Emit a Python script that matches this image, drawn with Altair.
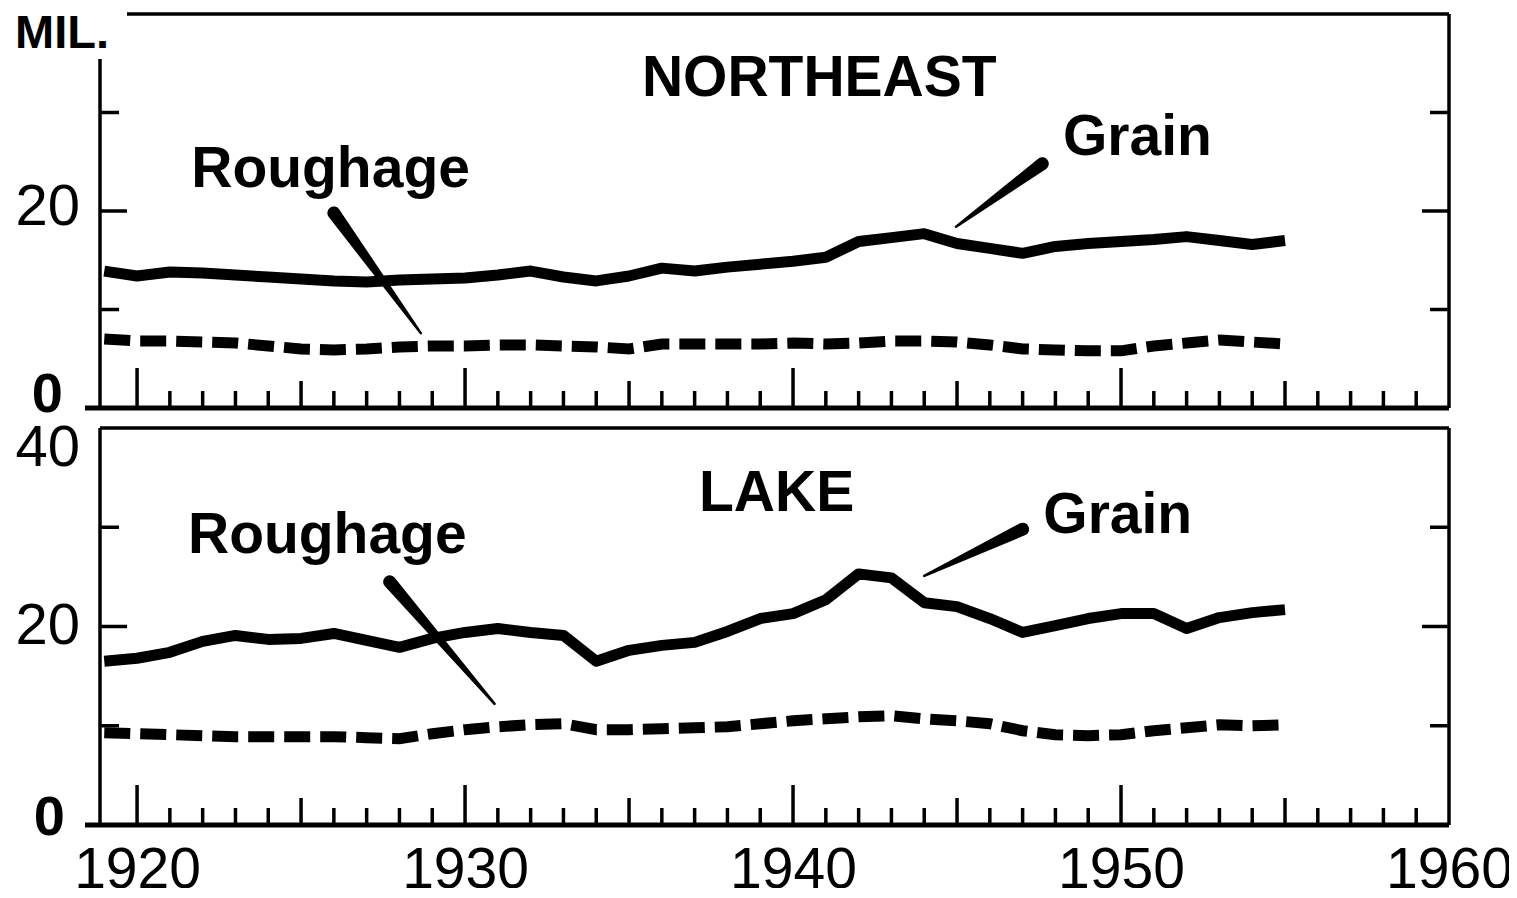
import altair as alt
import pandas as pd

# ---------------- data ----------------
years = list(range(1919, 1956))

ne_grain = [13.9, 13.4, 13.8, 13.7, 13.5, 13.3, 13.1, 12.9, 12.8, 13.0,
            13.1, 13.2, 13.5, 13.9, 13.3, 12.9, 13.4, 14.2, 13.9, 14.3,
            14.6, 14.9, 15.3, 16.9, 17.3, 17.7, 16.7, 16.2, 15.7, 16.4,
            16.7, 16.9, 17.1, 17.4, 17.0, 16.6, 17.0]
ne_roughage = [7.0, 6.8, 6.8, 6.7, 6.6, 6.3, 6.0, 5.9, 6.0, 6.2,
               6.3, 6.3, 6.4, 6.4, 6.3, 6.2, 6.0, 6.5, 6.5, 6.5,
               6.5, 6.6, 6.5, 6.6, 6.8, 6.8, 6.7, 6.4, 6.0, 5.9,
               5.8, 5.8, 6.3, 6.6, 6.9, 6.7, 6.5]
lake_grain = [16.5, 16.8, 17.4, 18.5, 19.1, 18.7, 18.8, 19.3, 18.6, 17.9,
              18.8, 19.4, 19.8, 19.4, 19.1, 16.5, 17.6, 18.1, 18.4, 19.5,
              20.8, 21.3, 22.7, 25.3, 24.9, 22.4, 22.0, 20.8, 19.4, 20.1,
              20.8, 21.3, 21.3, 19.8, 20.9, 21.4, 21.7]
lake_roughage = [9.3, 9.2, 9.1, 9.0, 8.9, 8.9, 8.9, 8.9, 8.8, 8.7,
                 9.2, 9.6, 9.9, 10.1, 10.2, 9.6, 9.6, 9.7, 9.8, 9.9,
                 10.2, 10.5, 10.7, 10.9, 11.0, 10.7, 10.5, 10.2, 9.5, 9.1,
                 9.0, 9.1, 9.5, 9.8, 10.1, 10.0, 10.1]

x_tick_labels = [1920, 1930, 1940, 1950, 1960]
ne_y_labels = ["0", "20"]
ne_y_values = [0, 20]
lake_y_labels = ["0", "20", "40"]
lake_y_values = [0, 20, 40]
inner_y_ticks = [10, 20, 30]
unit_label = "MIL."

# annotation anchors (year, value)
ne_text_labels = ["NORTHEAST", "Grain", "Roughage"]
ne_text_years = [1940.8, 1950.5, 1925.9]
ne_text_values = [31.7, 25.7, 22.4]
lake_text_labels = ["LAKE", "Grain", "Roughage"]
lake_text_years = [1939.5, 1949.9, 1925.8]
lake_text_values = [31.6, 29.4, 27.4]

# leader wedges: thick end first, thin end second
ne_leader_years = [1926.0, 1928.65, 1947.6, 1944.97]
ne_leader_values = [19.8, 7.6, 24.8, 18.4]
lake_leader_years = [1927.7, 1930.9, 1947.0, 1944.0]
lake_leader_values = [24.5, 12.2, 29.8, 25.1]

# ---------------- styling ----------------
W = 1349
FONT = "Liberation Sans"
INK = "black"
xs = alt.Scale(domain=[1918.87, 1960], nice=False, zero=False)
ys = alt.Scale(domain=[0, 40], nice=False)
one = pd.DataFrame({"a": [0]})


def panel(h, grain, rough, t_labels, t_years, t_values, l_years, l_values,
          y_labels, y_values, y_style, notch, x_labels):
    if x_labels:
        x_axis = alt.Axis(values=x_tick_labels, format="d", labelFontSize=57,
                          labelFont=FONT, labelColor=INK, labelPadding=17,
                          labelFlush=False, labelOverlap=False, ticks=False,
                          domain=False, grid=False, title=None)
    else:
        x_axis = None

    def X():
        return alt.X("year:Q", scale=xs, axis=x_axis)

    def Y():
        return alt.Y("value:Q", scale=ys, axis=None)

    layers = []
    g_df = pd.DataFrame({"year": years, "value": grain})
    r_df = pd.DataFrame({"year": years, "value": rough})
    layers.append(alt.Chart(g_df).mark_line(color=INK, strokeWidth=11, strokeJoin="round")
                  .encode(x=X(), y=Y()))
    layers.append(alt.Chart(r_df).mark_line(color=INK, strokeWidth=11, strokeDash=[26, 10])
                  .encode(x=X(), y=Y()))

    # x ticks (inward)
    tick_years = list(range(1920, 1960))
    groups = [([y for y in tick_years if y % 10 == 0], 40),
              ([y for y in tick_years if y % 10 == 5], 27),
              ([y for y in tick_years if y % 5 != 0], 17)]
    for yrs, L in groups:
        layers.append(alt.Chart(pd.DataFrame({"year": yrs})).mark_rule(color=INK, strokeWidth=3.5)
                      .encode(x=X(), y=alt.value(h), y2=alt.value(h - L)))

    # y ticks (inward, both sides)
    for vals, L in (([v for v in inner_y_ticks if v != 20], 19), ([20], 27)):
        d = pd.DataFrame({"value": vals})
        layers.append(alt.Chart(d).mark_rule(color=INK, strokeWidth=3.5)
                      .encode(y=Y(), x=alt.value(0), x2=alt.value(L)))
        layers.append(alt.Chart(d).mark_rule(color=INK, strokeWidth=3.5)
                      .encode(y=Y(), x=alt.value(W), x2=alt.value(W - L)))

    # frame
    nx, ny = notch
    layers.append(alt.Chart(one).mark_rule(color=INK, strokeWidth=3.5)
                  .encode(x=alt.value(nx), x2=alt.value(W), y=alt.value(0)))
    layers.append(alt.Chart(one).mark_rule(color=INK, strokeWidth=3.5)
                  .encode(x=alt.value(W), y=alt.value(0), y2=alt.value(h)))
    layers.append(alt.Chart(one).mark_rule(color=INK, strokeWidth=3.5)
                  .encode(x=alt.value(0), y=alt.value(ny), y2=alt.value(h)))
    layers.append(alt.Chart(one).mark_rule(color=INK, strokeWidth=5)
                  .encode(x=alt.value(-15), x2=alt.value(W), y=alt.value(h)))

    # y labels
    for lab, val in zip(y_labels, y_values):
        dx, dy, wt, fs = y_style[lab]
        layers.append(alt.Chart(pd.DataFrame({"value": [val], "t": [lab]}))
                      .mark_text(font=FONT, fontSize=fs, fontWeight=wt, align="right",
                                 baseline="middle", color=INK, dy=dy)
                      .encode(x=alt.value(dx), y=Y(), text="t:N"))

    # titles / labels
    t_df = pd.DataFrame({"year": t_years, "value": t_values, "t": t_labels})
    layers.append(alt.Chart(t_df).mark_text(font=FONT, fontSize=57, fontWeight="bold",
                                            align="center", baseline="alphabetic", color=INK)
                  .encode(x=X(), y=Y(), text="t:N"))

    # leader wedges
    widths = []
    ids = []
    for i in range(len(l_years) // 2):
        widths += [13, 2.5]
        ids += [i, i]
    l_df = pd.DataFrame({"year": l_years, "value": l_values, "w": widths, "id": ids})
    layers.append(alt.Chart(l_df).mark_trail(color=INK)
                  .encode(x=X(), y=Y(), size=alt.Size("w:Q", scale=None, legend=None),
                          detail="id:N"))
    return layers


ne_style = {"0": (-37, -13, "bold", 56), "20": (-20, -3, "normal", 58)}
lake_style = {"0": (-35, -7, "bold", 56), "20": (-20, 0, "normal", 58),
              "40": (-20, 21, "normal", 58)}

H_TOP = 394
H_BOT = 397

top_layers = panel(H_TOP, ne_grain, ne_roughage, ne_text_labels, ne_text_years, ne_text_values,
                   ne_leader_years, ne_leader_values, ne_y_labels, ne_y_values, ne_style,
                   (27, 45), False)
top_layers.append(alt.Chart(one).mark_text(font=FONT, fontSize=47, fontWeight="bold",
                                           align="left", baseline="alphabetic", color=INK)
                  .encode(x=alt.value(-85), y=alt.value(34), text=alt.value(unit_label)))
top = alt.layer(*top_layers).properties(width=W, height=H_TOP)

bot_layers = panel(H_BOT, lake_grain, lake_roughage, lake_text_labels, lake_text_years,
                   lake_text_values, lake_leader_years, lake_leader_values, lake_y_labels,
                   lake_y_values, lake_style, (0, 0), True)
bottom = alt.layer(*bot_layers).properties(width=W, height=H_BOT)

chart = (alt.vconcat(top, bottom, spacing=-3)
         .properties(padding={"left": 7, "top": 2, "right": -4, "bottom": -10},
                     background="white")
         .configure_view(stroke=None))

chart.save("out.html", embed_options={"renderer": "svg", "actions": False})
